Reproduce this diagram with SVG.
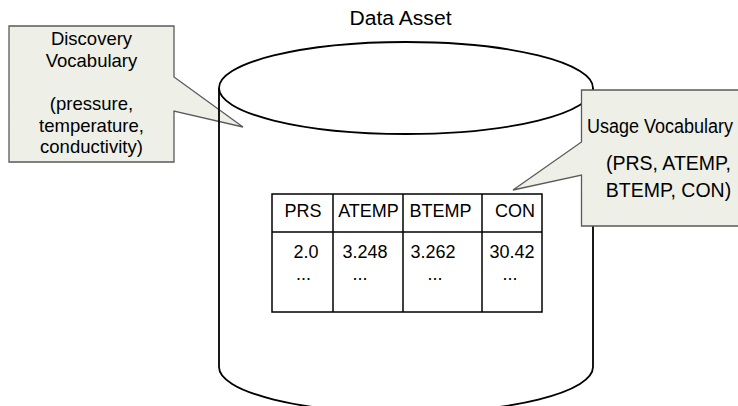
<svg xmlns="http://www.w3.org/2000/svg" width="738" height="406" viewBox="0 0 738 406">
  <style>
    text { font-family: "Liberation Sans", Arial, sans-serif; fill: #000; }
    .title { font-size: 20px; text-anchor: middle; }
    .note { font-size: 18.5px; text-anchor: middle; }
    .note-r { font-size: 19.5px; text-anchor: middle; }
    .cell { font-size: 18px; text-anchor: middle; }
    .callout { fill: #eef0e8; stroke: #5a5a5a; stroke-width: 1.3; stroke-linejoin: miter; }
    .drum { fill: none; stroke: #000; stroke-width: 1.8; }
    .grid { fill: #fff; stroke: #000; stroke-width: 1.5; }
    .rule { stroke: #000; stroke-width: 1.5; }
  </style>

  <rect width="738" height="406" fill="#fff"/>

  <text class="title" x="400.5" y="25" textLength="102" lengthAdjust="spacingAndGlyphs">Data Asset</text>

  <!-- callout naming the discovery terms -->
  <g id="discovery-vocabulary">
    <path class="callout" d="M9,26 H174 V77 L243,127 L174,111 V162 H9 Z"/>
    <text class="note" x="91.5" y="45">Discovery</text>
    <text class="note" x="91.5" y="66.5">Vocabulary</text>
    <text class="note" x="91.5" y="110">(pressure,</text>
    <text class="note" x="91.5" y="131.5">temperature,</text>
    <text class="note" x="91.5" y="153">conductivity)</text>
  </g>

  <!-- storage drum holding the data -->
  <g id="data-asset">
    <ellipse class="drum" cx="406" cy="88" rx="187" ry="46"/>
    <path class="drum" d="M219,88 V367 A187,46 0 0 0 593,367 V88"/>
  </g>

  <!-- column table inside the drum -->
  <g id="data-table">
    <rect class="grid" x="272" y="194" width="270" height="118"/>
    <line class="rule" x1="272" y1="232" x2="542" y2="232"/>
    <line class="rule" x1="333" y1="194" x2="333" y2="312"/>
    <line class="rule" x1="403" y1="194" x2="403" y2="312"/>
    <line class="rule" x1="482" y1="194" x2="482" y2="312"/>
    <text class="cell" x="303" y="217">PRS</text>
    <text class="cell" x="368.5" y="217">ATEMP</text>
    <text class="cell" x="440.5" y="217">BTEMP</text>
    <text class="cell" x="515" y="217">CON</text>
    <text class="cell" x="306" y="258">2.0</text>
    <text class="cell" x="365" y="258">3.248</text>
    <text class="cell" x="433" y="258">3.262</text>
    <text class="cell" x="512" y="258">30.42</text>
    <text class="cell" x="303.5" y="280">...</text>
    <text class="cell" x="360" y="280">...</text>
    <text class="cell" x="435" y="280">...</text>
    <text class="cell" x="510" y="280">...</text>
  </g>

  <!-- callout naming the usage terms -->
  <g id="usage-vocabulary">
    <path class="callout" d="M581.5,90 H760 V226 H581.5 V175 L513,190 L581.5,142 Z"/>
    <text class="note-r" x="660" y="133" textLength="146" lengthAdjust="spacingAndGlyphs">Usage Vocabulary</text>
    <text class="note-r" x="668.5" y="170">(PRS, ATEMP,</text>
    <text class="note-r" x="668.5" y="197">BTEMP, CON)</text>
  </g>
</svg>
